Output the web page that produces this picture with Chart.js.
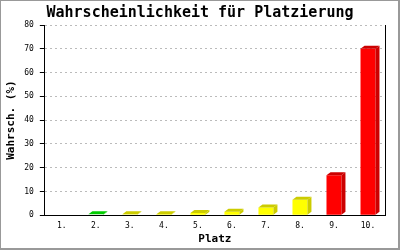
<!DOCTYPE html>
<html>
<head>
<meta charset="utf-8">
<script src="https://cdn.jsdelivr.net/npm/chart.js@4"></script>
<style>
  html, body { margin: 0; padding: 0; background: #fff; }
  #wrap { width: 400px; height: 250px; }
</style>
</head>
<body>
<div id="wrap"><canvas id="myChart"></canvas></div>
<script>
const places = ["1.", "2.", "3.", "4.", "5.", "6.", "7.", "8.", "9.", "10."];
const chances = [0, 0.2, 0.1, 0.4, 0.9, 1.5, 3.2, 6.5, 16.8, 70];
const frontColors = ["#00cc00", "#00cc00", "#ffff00", "#ffff00", "#ffff00", "#ffff00", "#ffff00", "#ffff00", "#ff0000", "#ff0000"];
const sideColors = ["#00aa00", "#00cc00", "#cccc00", "#cccc00", "#cccc00", "#cccc00", "#cccc00", "#cccc00", "#cc0000", "#cc0000"];
const yTicks = [0, 10, 20, 30, 40, 50, 60, 70, 80];

const ctx = document.getElementById("myChart");
const mono = "'DejaVu Sans Mono', 'Liberation Mono', monospace";

// draws the fake 3d top + side on every bar
const bars3d = {
  id: "bars3d",
  afterDatasetsDraw(chart) {
    const c = chart.ctx;
    const meta = chart.getDatasetMeta(0);
    const dx = 4, dy = 3;
    meta.data.forEach((bar, i) => {
      if (!chances[i]) return;
      const left = bar.x - bar.width / 2;
      const right = bar.x + bar.width / 2;
      const top = Math.min(bar.y, bar.base - 0.5);
      c.save();
      c.fillStyle = sideColors[i];
      c.beginPath();
      c.moveTo(right, top);
      c.lineTo(right + dx, top - dy);
      c.lineTo(right + dx, bar.base - dy);
      c.lineTo(right, bar.base);
      c.closePath();
      c.fill();
      c.beginPath();
      c.moveTo(left, top);
      c.lineTo(left + dx, top - dy);
      c.lineTo(right + dx, top - dy);
      c.lineTo(right, top);
      c.closePath();
      c.fill();
      c.restore();
    });
  },
  afterDraw(chart) {
    const c = chart.ctx;
    const a = chart.chartArea;
    c.save();
    c.strokeStyle = "#000";
    c.lineWidth = 1;
    c.beginPath();
    c.moveTo(Math.round(a.right) + 0.5, a.top);
    c.lineTo(Math.round(a.right) + 0.5, a.bottom);
    c.stroke();
    c.fillStyle = "#999";
    c.fillRect(0, 0, 1, 250);
    c.fillRect(0, 0, 400, 1);
    c.fillRect(398, 0, 2, 250);
    c.fillRect(0, 248, 400, 2);
    c.restore();
  }
};

new Chart(ctx, {
  type: "bar",
  data: {
    labels: places,
    datasets: [{
      data: chances,
      backgroundColor: frontColors,
      borderWidth: 0,
      barPercentage: 0.88,
      categoryPercentage: 0.5
    }]
  },
  options: {
    responsive: true,
    maintainAspectRatio: false,
    animation: false,
    layout: { padding: { left: 0, right: 0, top: 0, bottom: 4 } },
    plugins: {
      legend: { display: false },
      tooltip: { enabled: false },
      title: {
        display: true,
        text: "Wahrscheinlichkeit für Platzierung",
        color: "#000",
        font: { family: mono, size: 15, weight: "bold" },
        padding: { top: 4, bottom: 3 }
      }
    },
    scales: {
      x: {
        grid: { display: false, drawTicks: false },
        border: { color: "#000", width: 1 },
        ticks: { color: "#000", font: { family: mono, size: 8 }, padding: 6, maxRotation: 0 },
        title: {
          display: true,
          text: "Platz",
          color: "#000",
          font: { family: mono, size: 11, weight: "bold" },
          padding: { top: -4, bottom: 0 }
        }
      },
      y: {
        min: 0,
        max: 80,
        afterBuildTicks(axis) {
          axis.ticks = yTicks.map(v => ({ value: v }));
        },
        grid: { color: "#bbbbbb", tickColor: "#000", tickLength: 5, tickBorderDash: [] },
        border: { color: "#000", width: 1, dash: [2, 3] },
        ticks: { color: "#000", font: { family: mono, size: 8 }, padding: 6 },
        title: {
          display: true,
          text: "Wahrsch. (%)",
          color: "#000",
          font: { family: mono, size: 11, weight: "bold" },
          padding: { top: 5, bottom: 0 }
        }
      },
      // empty right axis, only reserves the right margin
      yRight: {
        position: "right",
        min: 0,
        max: 80,
        grid: { display: false, drawOnChartArea: false },
        border: { display: false },
        ticks: { display: false },
        afterFit(axis) {
          axis.width = 15;
        }
      }
    }
  },
  plugins: [bars3d]
});
</script>
</body>
</html>
